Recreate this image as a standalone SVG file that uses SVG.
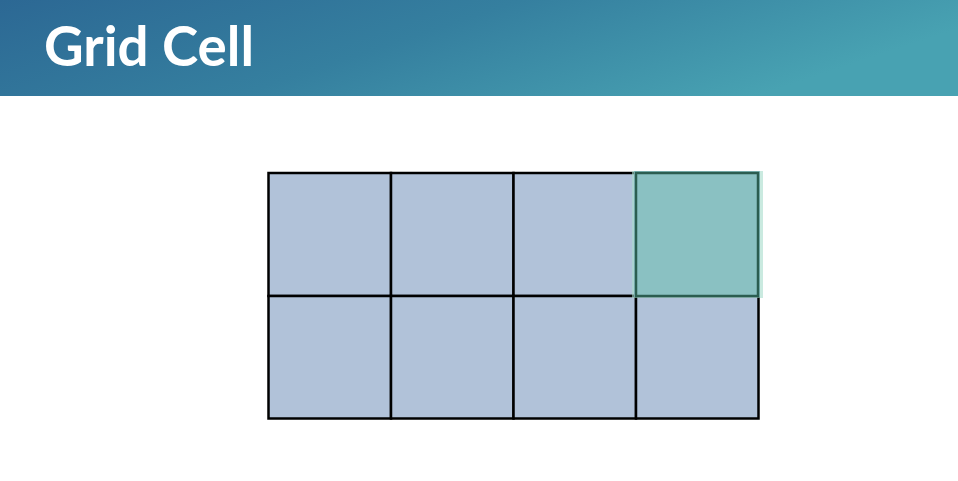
<svg xmlns="http://www.w3.org/2000/svg" width="958" height="481" viewBox="0 0 958 481">
<defs>
<linearGradient id="hdr" x1="0" y1="0" x2="1" y2="0.3">
<stop offset="0" stop-color="#2c6894"/>
<stop offset="0.5" stop-color="#357f9f"/>
<stop offset="1" stop-color="#48a2b2"/>
</linearGradient>
<style>
.cell{fill:#b1c2d9;stroke:#000;stroke-width:2.5}
.title{font-family:Lato,"Open Sans",sans-serif;font-weight:bold;font-size:55px;fill:#fff}
</style>
</defs>
<rect width="958" height="481" fill="#fff"/>
<g id="header">
<rect x="0" y="0" width="958" height="96" fill="url(#hdr)"/>
<text class="title" x="44" y="66" textLength="210" lengthAdjust="spacingAndGlyphs">Grid Cell</text>
</g>
<g id="grid">
<rect class="cell" x="268.5" y="173" width="122.5" height="123"/>
<rect class="cell" x="391" y="173" width="122.5" height="123"/>
<rect class="cell" x="513.5" y="173" width="122.5" height="123"/>
<rect class="cell" x="636" y="173" width="122.5" height="123"/>
<rect class="cell" x="268.5" y="296" width="122.5" height="122.5"/>
<rect class="cell" x="391" y="296" width="122.5" height="122.5"/>
<rect class="cell" x="513.5" y="296" width="122.5" height="122.5"/>
<rect class="cell" x="636" y="296" width="122.5" height="122.5"/>
</g>
<g id="highlight">
<rect x="632" y="171" width="131" height="127" fill="#a6dccb" opacity="0.6"/>
<rect x="634" y="171" width="126" height="126" fill="#8ac1c2"/>
<rect x="636" y="173" width="122" height="123" fill="#8ac1c2" stroke="#2b5d50" stroke-width="2.5"/>
</g>
</svg>
